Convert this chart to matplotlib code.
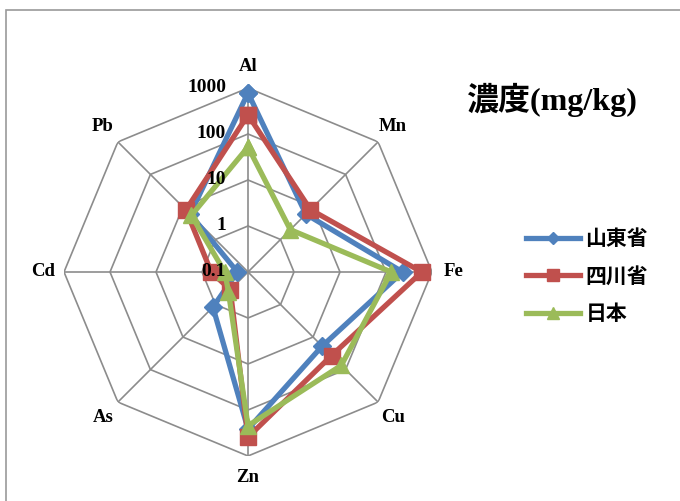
import numpy as np
import matplotlib
matplotlib.use("Agg")
import matplotlib.pyplot as plt
from matplotlib.lines import Line2D
from matplotlib.patches import Rectangle

categories = ['Al', 'Mn', 'Fe', 'Cu', 'Zn', 'As', 'Cd', 'Pb']
series_names = ['山東省', '四川省', '日本']
shandong = [780, 6.0, 230, 19, 260, 1.2, 0.17, 6.0]
sichuan = [260, 8.3, 600, 37, 390, 0.35, 0.63, 8.1]
japan = [52, 2.0, 130, 74, 220, 0.4, 0.32, 5.5]
tick_values = [0.1, 1, 10, 100, 1000]
tick_labels = ['0.1', '1', '10', '100', '1000']
title_text = '濃度(mg/kg)'

colors = ['#4F81BD', '#C0504D', '#9BBB59']
markers = ['D', 's', '^']
msizes = [9, 12, 12]

W, H = 680, 501
fig = plt.figure(figsize=(W / 100, H / 100), dpi=100)
fig.patch.set_facecolor('white')

# outer chart frame
fig.patches.append(Rectangle((6 / W, -0.05), 1.1, (H - 10) / H + 0.05,
                             transform=fig.transFigure, fill=False,
                             edgecolor='#9a9a9a', linewidth=1.2))

cx, cy, R = 248, 272, 184
ax = fig.add_axes([(cx - R) / W, (H - cy - R) / H, 2 * R / W, 2 * R / H],
                  projection='polar')
ax.set_theta_zero_location('N')
ax.set_theta_direction(-1)
ax.set_rscale('log')
ax.set_ylim(tick_values[0], tick_values[-1])
ax.grid(False)
ax.set_xticks([])
ax.set_yticks([])
ax.spines['polar'].set_visible(False)
ax.patch.set_alpha(0)

n = len(categories)
theta = np.arange(n) * 2 * np.pi / n
theta_c = np.append(theta, theta[0])

grid_col = '#8c8c8c'
for v in tick_values[1:]:
    ax.plot(theta_c, [v] * (n + 1), color=grid_col, lw=1.2, zorder=1)
for t in theta:
    ax.plot([t, t], [tick_values[0], tick_values[-1]], color=grid_col, lw=1.2, zorder=1)

for vals, c, m, ms in zip([shandong, sichuan, japan], colors, markers, msizes):
    vv = np.append(vals, vals[0])
    ax.plot(theta_c, vv, color=c, lw=3.8, marker=m, markersize=ms,
            markeredgecolor=c, zorder=3, clip_on=False)

serif = ['Liberation Serif', 'DejaVu Serif']
for t, lab in zip(theta, categories):
    ax.text(t, 2900, lab, ha='center', va='center', fontsize=13.5,
            fontweight='bold', family=serif, clip_on=False)

for v, lab in zip(tick_values, tick_labels):
    ax.annotate(lab, xy=(0, v), xytext=(-22, 0), textcoords='offset pixels',
                ha='right', va='center', fontsize=14, fontweight='bold',
                family=serif, zorder=4)

fig.text(551 / W, 1 - 100 / H, title_text, ha='center', va='center',
         fontsize=23, fontweight='bold',
         family=['Liberation Serif', 'Noto Sans CJK JP'])

leg_ms = [6, 8, 8]
handles = [Line2D([], [], color=c, lw=3.8, marker=m, markersize=ms,
                  markeredgecolor=c) for c, m, ms in zip(colors, markers, leg_ms)]
leg = fig.legend(handles, series_names, loc='upper left',
                 bbox_to_anchor=(526 / W, 1 - 228 / H), frameon=False,
                 prop={'family': 'Noto Sans CJK JP', 'weight': 'bold', 'size': 15},
                 handlelength=2.6, handletextpad=0.25, labelspacing=0.79,
                 borderaxespad=0, borderpad=0)

fig.savefig('out.png', dpi=100)
